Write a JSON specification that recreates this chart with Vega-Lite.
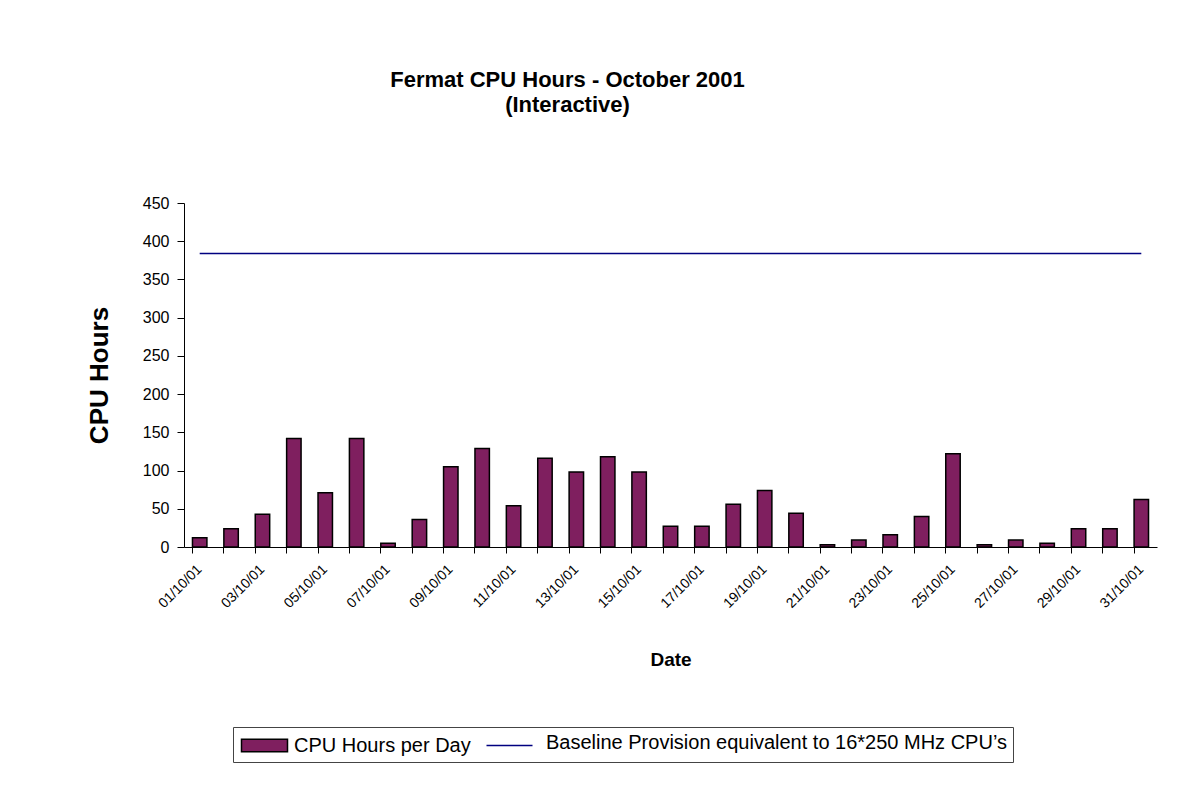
{
  "$schema": "https://vega.github.io/schema/vega-lite/v6.json",
  "width": 973,
  "height": 344,
  "autosize": "none",
  "padding": {"left": 184, "top": 203, "right": 32, "bottom": 263},
  "background": "white",
  "config": {
    "font": "Liberation Sans",
    "view": {"stroke": null},
    "axis": {"domainColor": "black", "tickColor": "black", "labelColor": "black", "titleColor": "black", "grid": false}
  },
  "title": {
    "text": ["Fermat CPU Hours - October 2001", "(Interactive)"],
    "fontSize": 22,
    "fontWeight": "bold",
    "lineHeight": 25,
    "anchor": "middle",
    "dx": -103,
    "offset": 78,
    "color": "black"
  },
  "data": {
    "values": [
      {"date": "01/10/01", "hours": 12, "baseline": 384},
      {"date": "02/10/01", "hours": 24, "baseline": 384},
      {"date": "03/10/01", "hours": 43, "baseline": 384},
      {"date": "04/10/01", "hours": 142, "baseline": 384},
      {"date": "05/10/01", "hours": 71, "baseline": 384},
      {"date": "06/10/01", "hours": 142, "baseline": 384},
      {"date": "07/10/01", "hours": 5, "baseline": 384},
      {"date": "08/10/01", "hours": 36, "baseline": 384},
      {"date": "09/10/01", "hours": 105, "baseline": 384},
      {"date": "10/10/01", "hours": 129, "baseline": 384},
      {"date": "11/10/01", "hours": 54, "baseline": 384},
      {"date": "12/10/01", "hours": 116, "baseline": 384},
      {"date": "13/10/01", "hours": 98, "baseline": 384},
      {"date": "14/10/01", "hours": 118, "baseline": 384},
      {"date": "15/10/01", "hours": 98, "baseline": 384},
      {"date": "16/10/01", "hours": 27, "baseline": 384},
      {"date": "17/10/01", "hours": 27, "baseline": 384},
      {"date": "18/10/01", "hours": 56, "baseline": 384},
      {"date": "19/10/01", "hours": 74, "baseline": 384},
      {"date": "20/10/01", "hours": 44, "baseline": 384},
      {"date": "21/10/01", "hours": 3, "baseline": 384},
      {"date": "22/10/01", "hours": 9, "baseline": 384},
      {"date": "23/10/01", "hours": 16, "baseline": 384},
      {"date": "24/10/01", "hours": 40, "baseline": 384},
      {"date": "25/10/01", "hours": 122, "baseline": 384},
      {"date": "26/10/01", "hours": 3, "baseline": 384},
      {"date": "27/10/01", "hours": 9, "baseline": 384},
      {"date": "28/10/01", "hours": 5, "baseline": 384},
      {"date": "29/10/01", "hours": 24, "baseline": 384},
      {"date": "30/10/01", "hours": 24, "baseline": 384},
      {"date": "31/10/01", "hours": 62, "baseline": 384}
    ]
  },
  "encoding": {
    "x": {
      "field": "date",
      "type": "ordinal",
      "sort": null,
      "scale": {"paddingInner": 0.54, "paddingOuter": 0.27},
      "axis": {
        "title": "Date",
        "titleFontSize": 19,
        "titleFontWeight": "bold",
        "titlePadding": 40,
        "labelAngle": -45,
        "labelAlign": "right",
        "labelBaseline": "middle",
        "labelFontSize": 14,
        "labelPadding": 14,
        "labelOffset": 0,
        "bandPosition": 0,
        "tickSize": 6,
        "labelExpr": "parseInt(substring(datum.value, 0, 2)) % 2 == 1 ? datum.value : ''"
      }
    }
  },
  "layer": [
    {
      "mark": {"type": "bar", "stroke": "black", "strokeWidth": 1.5},
      "encoding": {
        "y": {
          "field": "hours",
          "type": "quantitative",
          "scale": {"domain": [0, 450]},
          "axis": {
            "title": "CPU Hours",
            "titleFontSize": 26,
            "titleFontWeight": "bold",
            "titlePadding": 30,
            "values": [0, 50, 100, 150, 200, 250, 300, 350, 400, 450],
            "labelFontSize": 16,
            "labelPadding": 8,
            "tickSize": 7
          }
        },
        "fill": {
          "datum": "CPU Hours per Day",
          "type": "nominal",
          "scale": {"domain": ["CPU Hours per Day"], "range": ["#7f1f5f"]},
          "legend": {
            "title": "Baseline Provision equivalent to 16*250 MHz CPU’s",
            "titleOrient": "right",
            "titleFontSize": 20,
            "titleFontWeight": "normal",
            "titleColor": "black",
            "titlePadding": 75,
            "titleAnchor": "start",
            "titleBaseline": "top",
            "titleLimit": 1000,
            "orient": "none",
            "legendX": 49,
            "legendY": 524,
            "direction": "horizontal",
            "strokeColor": "#444444",
            "padding": 6,
            "labelFontSize": 20,
            "labelColor": "black",
            "labelLimit": 1000,
            "labelOffset": 17,
            "symbolOffset": 13,
            "symbolType": "M-2,-0.54H2V0.54H-2Z",
            "symbolSize": 529,
            "symbolStrokeColor": "black",
            "symbolStrokeWidth": 1.5,
            "symbolOpacity": 1
          }
        }
      }
    },
    {
      "mark": {"type": "line", "strokeWidth": 1.5},
      "encoding": {
        "y": {
          "field": "baseline",
          "type": "quantitative",
          "axis": {
            "title": "CPU Hours",
            "titleFontSize": 26,
            "titleFontWeight": "bold",
            "titlePadding": 30,
            "values": [0, 50, 100, 150, 200, 250, 300, 350, 400, 450],
            "labelFontSize": 16,
            "labelPadding": 8,
            "tickSize": 7
          }
        },
        "stroke": {
          "datum": "Baseline Provision equivalent to 16*250 MHz CPU’s",
          "type": "nominal",
          "scale": {"domain": ["Baseline Provision equivalent to 16*250 MHz CPU’s"], "range": ["#000080"]},
          "legend": {
            "title": null,
            "orient": "none",
            "legendX": 294,
            "legendY": 524,
            "direction": "horizontal",
            "padding": 6,
            "labelFontSize": 20,
            "labelExpr": "''",
            "labelOffset": 5,
            "symbolOffset": 13,
            "symbolType": "M-2,0H2",
            "symbolSize": 529,
            "symbolStrokeWidth": 1.5,
            "symbolOpacity": 1
          }
        }
      }
    }
  ]
}
